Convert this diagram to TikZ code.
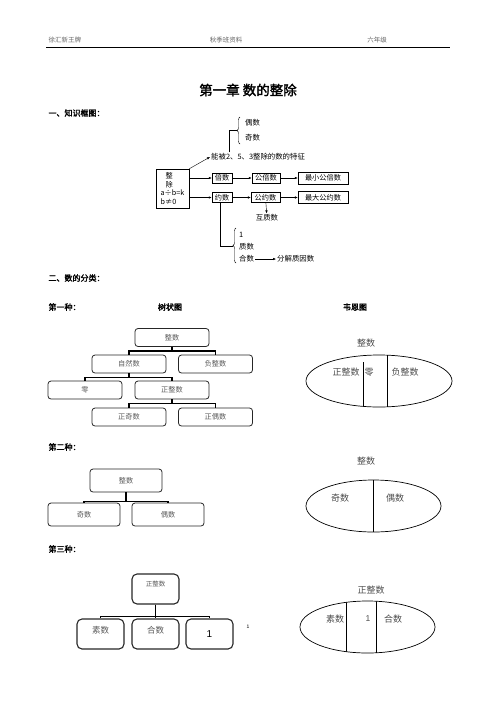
\documentclass[tikz,border=0pt]{standalone}
\usepackage{fontspec}
\setmainfont{Noto Sans CJK SC}[AutoFakeBold=2]
\newfontfamily\numfont{Liberation Sans}
\usetikzlibrary{arrows.meta,positioning,decorations.pathreplacing}

\begin{document}
\begin{tikzpicture}[
		x=1pt, y=-1pt,
		framebox/.style={
		% The shape:
		rectangle,
		% The size:
		minimum height=10pt, inner sep=0.8pt,
		% The border:
		draw=black,
		% Font
		font=\fontsize{7.2}{8.8}\selectfont
		},
		frametext/.style={inner sep=1pt, font=\fontsize{7.4}{8}\selectfont},
		treebox/.style={
		% The shape:
		rectangle, rounded corners=3pt,
		% The size:
		minimum width=74pt, minimum height=18pt,
		% The border:
		line width=0.8pt, draw=black!85,
		% Font
		text=black!65, font=\fontsize{7.2}{8}\selectfont
		},
		tallbox/.style={treebox, minimum width=47pt, minimum height=30pt, rounded corners=5pt, line width=1.1pt},
		vennlabel/.style={text=black!70, font=\fontsize{9}{10}\selectfont},
		headtext/.style={text=black!60, font=\fontsize{6.5}{7}\selectfont},
		sechead/.style={font=\fontsize{8}{9}\selectfont\bfseries},
		arr/.style={-{Latex[length=3pt,width=2.5pt]}},
		treeline/.style={line width=1.3pt},
		bracket/.style={decorate, decoration={brace, amplitude=3pt}}
	]
	\useasboundingbox (0,0) rectangle (496,702);

	% header
	\node (hl)[headtext, anchor=west] at (45,40) {徐汇新王牌};
	\node (hm)[headtext] at (226,40) {秋季班资料};
	\node (hr)[headtext] at (377,40) {六年级};
	\draw [line width=0.8pt] (46,47) -- (450,47);

	\node (title)[font=\fontsize{13.5}{14}\selectfont\bfseries] at (248,90) {第一章\ 数的整除};
	\node (sec1)[sechead, anchor=west] at (45,113) {一、知识框图：};

	% knowledge frame
	\node (zc)[framebox, minimum width=33pt, minimum height=39pt, align=left] at (172.5,188.5) {\ \ \ 整\\\ \ \ 除\\a÷b=k\\b≠0};
	\node (bs)[framebox, minimum width=20pt] at (222,178) {倍数};
	\node (gbs)[framebox, minimum width=28pt] at (266,178) {公倍数};
	\node (zxgbs)[framebox, minimum width=50pt, minimum height=12pt] at (323,178) {最小公倍数};
	\node (ys)[framebox, minimum width=20pt] at (222,197.5) {约数};
	\node (gys)[framebox, minimum width=29pt] at (265.5,197.5) {公约数};
	\node (zdgys)[framebox, minimum width=50pt, minimum height=12pt] at (323,197.5) {最大公约数};
	\node (hzs)[frametext] at (267,218) {互质数};
	\node (tz)[frametext, anchor=west] at (210,157) {能被2、5、3整除的数的特征};
	\node (os)[frametext, anchor=west] at (244,123) {偶数};
	\node (js)[frametext, anchor=west] at (244,138) {奇数};
	\node (one)[frametext, anchor=west] at (238,235) {1};
	\node (zs)[frametext, anchor=west] at (238,247) {质数};
	\node (hs)[frametext, anchor=west] at (238,259) {合数};
	\node (fj)[frametext, anchor=west] at (276,259) {分解质因数};

	\coordinate (b1) at (237,130.5);
	\coordinate (b2) at (233,246);
	\draw [bracket] (240,144) -- (240,117);
	\draw [bracket] (236,263) -- (236,228);
	\draw ([xshift=19pt]tz.north west) |- (b1);
	\draw ([xshift=-2pt]ys.south) |- (b2);

	\draw [arr] (zc.north east) -- (tz.west);
	\draw [arr] (zc.east |- bs) -- (bs);
	\draw [arr, line width=0.9pt] (bs) -- (gbs);
	\draw [arr] (gbs) -- (zxgbs);
	\draw [arr, line width=0.9pt] (zc.east |- ys) -- (ys);
	\draw [arr] (ys) -- (gys);
	\draw [arr] (gys) -- (zdgys);
	\draw [arr] (gys) -- (hzs);
	\draw [arr] (hs) -- (fj);

	% classification
	\node (sec2)[sechead, anchor=west] at (45,278) {二、数的分类：};
	\node (d1)[sechead, anchor=west] at (45,307) {第一种：};
	\node (szt)[sechead] at (170,307) {树状图};
	\node (wet)[sechead] at (355,307) {韦恩图};

	\node (t1z)[treebox] at (172,337.5) {整数};
	\node (t1zr)[treebox] at (129,364) {自然数};
	\node (t1f)[treebox] at (215.5,364) {负整数};
	\node (t1l)[treebox] at (85,390) {零};
	\node (t1zz)[treebox] at (172,390) {正整数};
	\node (t1zj)[treebox] at (129,417) {正奇数};
	\node (t1zo)[treebox] at (215.5,417) {正偶数};

	\draw [treeline] (t1z.south) -- ++(0,4) -| (t1zr.north);
	\draw [treeline] (t1z.south) -- ++(0,4) -| (t1f.north);
	\draw [treeline] (t1zr.south) -- ++(0,4) -| (t1l.north);
	\draw [treeline] (t1zr.south) -- ++(0,4) -| (t1zz.north);
	\draw [treeline] (t1zz.south) -- ++(0,4) -| (t1zj.north);
	\draw [treeline] (t1zz.south) -- ++(0,4) -| (t1zo.north);

	\node (v1t)[vennlabel] at (366,343) {整数};
	\draw [line width=0.7pt] (379,381) ellipse [x radius=73, y radius=26];
	\begin{scope}
		\clip (379,381) ellipse [x radius=73, y radius=26];
		\draw [line width=0.8pt] (363,362) -- (363,410);
		\draw [line width=0.8pt] (387,350) -- (387,410);
	\end{scope}
	\node (v1a)[vennlabel] at (346,372) {正整数};
	\node (v1b)[vennlabel] at (369,372) {零};
	\node (v1c)[vennlabel] at (405,372) {负整数};

	\node (d2)[sechead, anchor=west] at (45,447) {第二种：};
	\node (t2z)[treebox, minimum width=72pt, minimum height=23pt] at (126,480.5) {整数};
	\node (t2j)[treebox, minimum width=72pt, minimum height=23pt] at (84,514.5) {奇数};
	\node (t2o)[treebox, minimum width=72pt, minimum height=23pt] at (168,514.5) {偶数};
	\draw [treeline] (t2z.south) -- ++(0,9) -| (t2j.north);
	\draw [treeline] (t2z.south) -- ++(0,9) -| (t2o.north);

	\node (v2t)[vennlabel] at (366,461) {整数};
	\draw [line width=0.7pt] (373.5,506) ellipse [x radius=67.5, y radius=26];
	\draw [line width=0.8pt] (373,480) -- (373,532);
	\node (v2a)[vennlabel] at (340,498) {奇数};
	\node (v2b)[vennlabel] at (395,498) {偶数};

	\node (d3)[sechead, anchor=west] at (45,549) {第三种：};
	\node (t3z)[tallbox, label={[anchor=north, yshift=-4pt, text=black!65, font=\fontsize{6.5}{7}\selectfont]north:正整数}] at (155.5,589) {};
	\node (t3s)[tallbox, label={[anchor=north, yshift=-4pt, text=black!65, font=\fontsize{8.5}{9}\selectfont]north:素数}] at (100.5,634) {};
	\node (t3h)[tallbox, label={[anchor=north, yshift=-4pt, text=black!65, font=\fontsize{8.5}{9}\selectfont]north:合数}] at (155.5,634) {};
	\node (t3o)[tallbox, text=black, font=\numfont\fontsize{10}{11}\selectfont] at (209.5,634) {1};
	\draw [treeline, line width=1.6pt] (t3z.south) -- ++(0,12) -| (t3s.north);
	\draw [treeline, line width=1.6pt] (t3z.south) -- ++(0,12) -| (t3h.north);
	\draw [treeline, line width=1.6pt] (t3z.south) -- ++(0,12) -| (t3o.north);
	\node (pg)[font=\numfont\fontsize{5}{6}\selectfont] at (248,627) {1};

	\node (v3t)[vennlabel] at (371,590) {正整数};
	\draw [line width=0.7pt] (367.5,627) ellipse [x radius=67.5, y radius=26];
	\begin{scope}
		\clip (367.5,627) ellipse [x radius=67.5, y radius=26];
		\draw [line width=0.8pt] (346,595) -- (346,660);
		\draw [line width=0.8pt] (376,595) -- (376,660);
	\end{scope}
	\node (v3a)[vennlabel] at (335,619) {素数};
	\node (v3b)[vennlabel, font=\numfont\fontsize{8.5}{9}\selectfont] at (368,619) {1};
	\node (v3c)[vennlabel] at (393,619) {合数};
\end{tikzpicture}
\end{document}
